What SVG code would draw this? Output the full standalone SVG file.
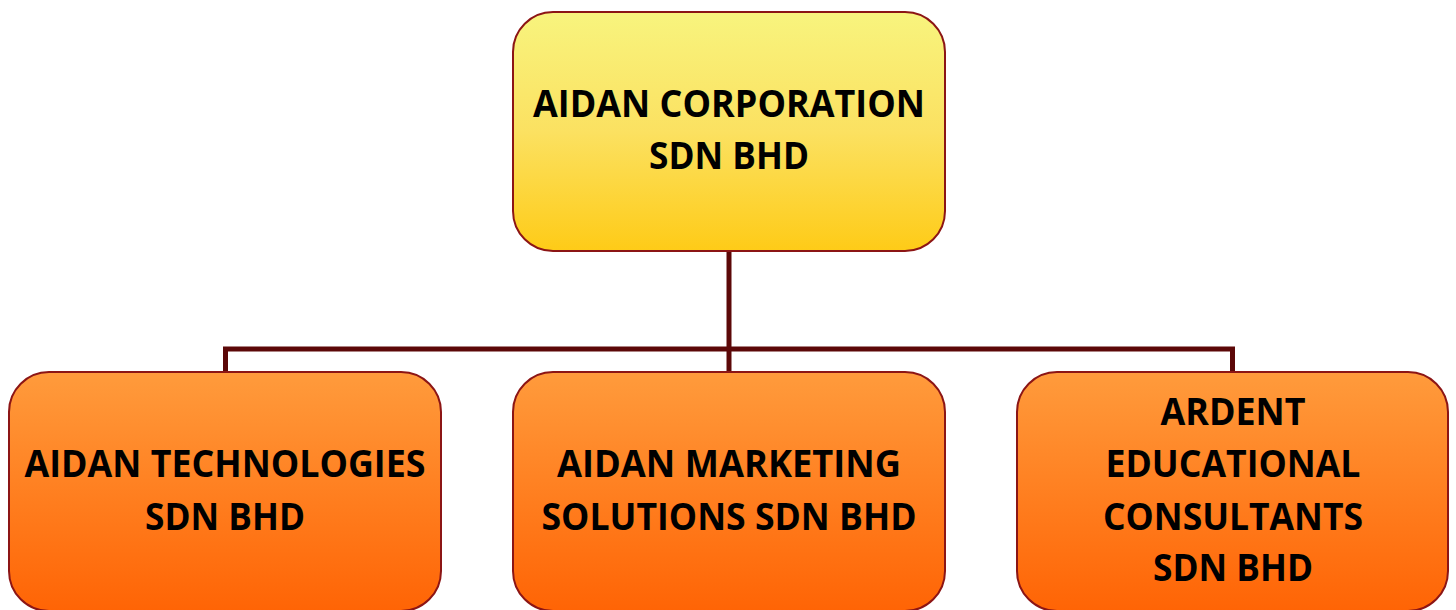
<svg xmlns="http://www.w3.org/2000/svg" width="1456" height="610" viewBox="0 0 1456 610">
<defs>
<linearGradient id="gYellow" x1="0" y1="0" x2="0" y2="1">
<stop offset="0" stop-color="#F8F47E"/>
<stop offset="0.5" stop-color="#FBE161"/>
<stop offset="1" stop-color="#FECB17"/>
</linearGradient>
<linearGradient id="gOrange" x1="0" y1="0" x2="0" y2="1">
<stop offset="0" stop-color="#FF9B3C"/>
<stop offset="1" stop-color="#FF6405"/>
</linearGradient>
<style>
.box{stroke:#8C1515;stroke-width:2}
.top{fill:url(#gYellow)}
.sub{fill:url(#gOrange)}
.lbl{font-family:"Open Sans","Liberation Sans",sans-serif;font-weight:bold;font-size:37px;fill:#000;text-anchor:middle}
.conn{fill:none;stroke:#5C0808;stroke-width:5}
</style>
</defs>
<rect width="1456" height="610" fill="#FFFFFF"/>
<g id="connectors">
<path class="conn" d="M729 251 V349"/>
<path class="conn" d="M225.5 372 V349 H1232.5 V372"/>
<path class="conn" d="M729 349 V372"/>
</g>
<g id="node-aidan-corporation">
<rect class="box top" x="513" y="12" width="432" height="239" rx="40" ry="40"/>
<text class="lbl" x="729" y="117" textLength="392" lengthAdjust="spacingAndGlyphs">AIDAN CORPORATION</text>
<text class="lbl" x="729" y="169" textLength="160" lengthAdjust="spacingAndGlyphs">SDN BHD</text>
</g>
<g id="node-aidan-technologies">
<rect class="box sub" x="9" y="372" width="432" height="239" rx="40" ry="40"/>
<text class="lbl" x="225" y="477" textLength="401" lengthAdjust="spacingAndGlyphs">AIDAN TECHNOLOGIES</text>
<text class="lbl" x="225" y="530" textLength="160" lengthAdjust="spacingAndGlyphs">SDN BHD</text>
</g>
<g id="node-aidan-marketing">
<rect class="box sub" x="513" y="372" width="432" height="239" rx="40" ry="40"/>
<text class="lbl" x="729" y="477" textLength="344" lengthAdjust="spacingAndGlyphs">AIDAN MARKETING</text>
<text class="lbl" x="729" y="530" textLength="375" lengthAdjust="spacingAndGlyphs">SOLUTIONS SDN BHD</text>
</g>
<g id="node-ardent">
<rect class="box sub" x="1017" y="372" width="431" height="239" rx="40" ry="40"/>
<text class="lbl" x="1233" y="425" textLength="145" lengthAdjust="spacingAndGlyphs">ARDENT</text>
<text class="lbl" x="1233" y="477" textLength="255" lengthAdjust="spacingAndGlyphs">EDUCATIONAL</text>
<text class="lbl" x="1233" y="530" textLength="260" lengthAdjust="spacingAndGlyphs">CONSULTANTS</text>
<text class="lbl" x="1233" y="581" textLength="160" lengthAdjust="spacingAndGlyphs">SDN BHD</text>
</g>
</svg>
